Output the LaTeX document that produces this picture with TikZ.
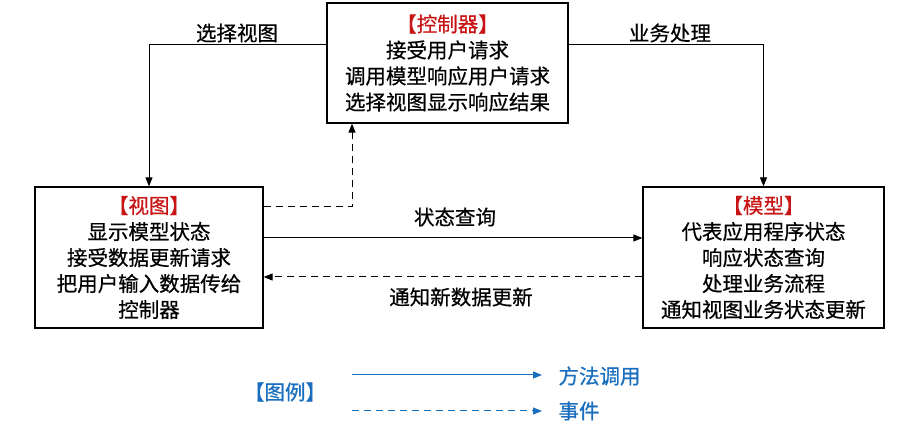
\documentclass[tikz,border=0pt]{standalone}
\usepackage{fontspec}
\setmainfont{Noto Sans CJK SC}[FakeBold=0.6]
\usetikzlibrary{arrows.meta}
\definecolor{titlered}{RGB}{200,20,20}
\definecolor{legblue}{RGB}{25,110,190}
\tikzset{
  box/.style={draw, line width=1.2pt, align=center, inner sep=0pt,
    font=\fontsize{20.5}{26}\selectfont},
  call/.style={-{Triangle[length=9pt,width=7pt]}, line width=1pt},
  event/.style={call, dash pattern=on 7pt off 5pt},
  lab/.style={font=\fontsize{20.5}{22}\selectfont}
}
\begin{document}
\begin{tikzpicture}[x=1pt, y=-1pt, line join=miter]
  \useasboundingbox (0,0) rectangle (913,427);
  % three parts
  \node[box, minimum width=241pt, minimum height=120pt] (ctrl) at (447.5,63)
    {{\color{titlered}【控制器】}\\接受用户请求\\调用模型响应用户请求\\选择视图显示响应结果};
  \node[box, minimum width=228pt, minimum height=141pt] (view) at (149,257.5)
    {{\color{titlered}【视图】}\\显示模型状态\\接受数据更新请求\\把用户输入数据传给\\控制器};
  \node[box, minimum width=241pt, minimum height=141pt] (model) at (763.5,257.5)
    {{\color{titlered}【模型】}\\代表应用程序状态\\响应状态查询\\处理业务流程\\通知视图业务状态更新};
  % connectors
  \draw[call] ([yshift=18pt]ctrl.west) -| (view.north);
  \draw[call] ([yshift=18pt]ctrl.east) -| (model.north);
  \draw[event] ([yshift=50.5pt]view.east) -| ([xshift=-95.5pt]ctrl.south);
  \draw[call] ([yshift=19.5pt]view.east) -- ([yshift=19.5pt]model.west);
  \draw[event] ([yshift=-19.5pt]model.west) -- ([yshift=-19.5pt]view.east);
  \node[lab] (selview) at (237,33) {选择视图};
  \node[lab] (business) at (670,33) {业务处理};
  \node[lab] (query) at (455,217) {状态查询};
  \node[lab] (notify) at (461,297) {通知新数据更新};
  % legend
  \node[lab, text=legblue] (legend) at (285,392) {【图例】};
  \coordinate (c1) at (352,375);
  \coordinate (c2) at (542,375);
  \coordinate (e1) at (352,411);
  \coordinate (e2) at (542,411);
  \draw[call, legblue] (c1) -- (c2);
  \draw[event, legblue] (e1) -- (e2);
  \node[lab, text=legblue, anchor=west] (calltxt) at (555,376) {方法调用};
  \node[lab, text=legblue, anchor=west] (eventtxt) at (555,411) {事件};
\end{tikzpicture}
\end{document}
